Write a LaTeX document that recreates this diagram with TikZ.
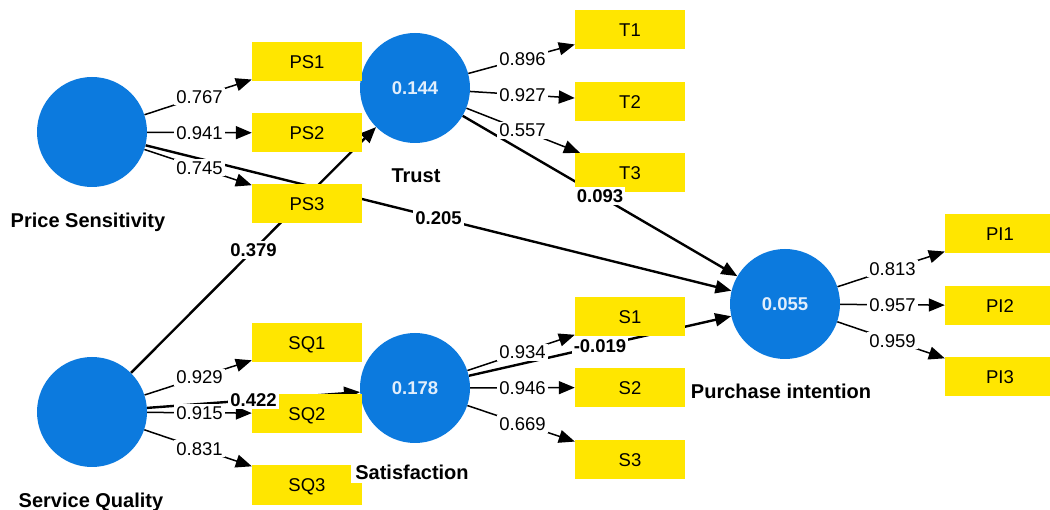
\documentclass[tikz,border=0pt]{standalone}
\usepackage{fontspec}
\setmainfont{Liberation Sans}
\usetikzlibrary{arrows.meta,calc,backgrounds}

\definecolor{lvblue}{RGB}{12,122,222}
\definecolor{mvyellow}{RGB}{255,230,0}
\definecolor{rsqtext}{RGB}{225,238,252}

\begin{document}
\begin{tikzpicture}[x=1pt,y=-1pt,
  latent/.style={circle, fill=lvblue, minimum size=110pt, inner sep=0pt,
    text=rsqtext, font=\bfseries\fontsize{18.5}{20}\selectfont,
    text height=13.3pt, text depth=0pt},
  indicator/.style={rectangle, fill=mvyellow, minimum width=110pt,
    minimum height=39pt, inner sep=0pt, font=\fontsize{18.5}{20}\selectfont,
    text height=13.3pt, text depth=0pt},
  loading/.style={draw, line width=1.5pt, -{Triangle[length=16pt,width=13pt]}},
  pathcoef/.style={draw, line width=2.4pt, -{Triangle[length=16pt,width=13pt]}},
  wlabel/.style={fill=white, inner sep=2pt, font=\fontsize{18.5}{20}\selectfont,
    text height=13.3pt, text depth=0pt},
  blabel/.style={wlabel, font=\bfseries\fontsize{18.5}{20}\selectfont},
  lvname/.style={fill=white, inner sep=4pt, font=\bfseries\fontsize{20}{22}\selectfont,
    text height=14.3pt, text depth=0pt}
]
\useasboundingbox (0,0) rectangle (1050,510);
\clip (0,0) rectangle (1050,510);

% latent variables (R-squared inside)
\node[latent] (ps)  at (92,132)  {};
\node[latent] (tr)  at (415,88)  {0.144};
\node[latent] (sq)  at (92,412)  {};
\node[latent] (sat) at (415,388) {0.178};
\node[latent] (pi)  at (785,304) {0.055};

% indicators
\node[indicator] (ps1) at (307,61.5)  {PS1};
\node[indicator] (ps2) at (307,133)   {PS2};
\node[indicator] (ps3) at (307,203.5) {PS3};
\node[indicator] (t1)  at (630,29.5)  {T1};
\node[indicator] (t2)  at (630,101.5) {T2};
\node[indicator] (t3)  at (630,172.5) {T3};
\node[indicator] (sq1) at (307,342.5) {SQ1};
\node[indicator] (sq2) at (307,413.5) {SQ2};
\node[indicator] (sq3) at (307,485)   {SQ3};
\node[indicator] (s1)  at (630,316.5) {S1};
\node[indicator] (s2)  at (630,387.5) {S2};
\node[indicator] (s3)  at (630,460)   {S3};
\node[indicator] (pi1) at (1000,233.5) {PI1};
\node[indicator] (pi2) at (1000,305.5) {PI2};
\node[indicator] (pi3) at (1000,377)   {PI3};

% connectors, kept beneath the shapes
\begin{scope}[on background layer]
  \draw[pathcoef] (ps)  -- (pi);
  \draw[pathcoef] (sq)  -- (tr);
  \draw[pathcoef] (tr)  -- (pi);
  \draw[pathcoef] (sq)  -- (sat);
  \draw[pathcoef] (sat) -- (pi);
  \foreach \a/\b in {ps/ps1,ps/ps2,ps/ps3,tr/t1,tr/t2,tr/t3,
                     sq/sq1,sq/sq2,sq/sq3,sat/s1,sat/s2,sat/s3,
                     pi/pi1,pi/pi2,pi/pi3}
    \draw[loading] (\a) -- (\b);
\end{scope}

% outer loadings
\foreach \a/\b/\v in {ps/ps1/0.767,ps/ps2/0.941,ps/ps3/0.745,
                      tr/t1/0.896,tr/t2/0.927,tr/t3/0.557,
                      sq/sq1/0.929,sq/sq2/0.915,sq/sq3/0.831,
                      sat/s1/0.934,sat/s2/0.946,sat/s3/0.669,
                      pi/pi1/0.813,pi/pi2/0.957,pi/pi3/0.959}
  \node[wlabel] (l-\b) at ($(\a)!.5!(\b)$) {\v};

% path coefficients
\node[blabel] (c-pspi)  at ($(ps)!.5!(pi)$)  {0.205};
\node[blabel] (c-sqtr)  at ($(sq)!.5!(tr)$)  {0.379};
\node[blabel] (c-trpi)  at ($(tr)!.5!(pi)$)  {0.093};
\node[blabel] (c-sqsat) at ($(sq)!.5!(sat)$) {0.422};
\node[blabel] (c-satpi) at ($(sat)!.5!(pi)$) {-0.019};

% construct names
\node[lvname] (n-ps)  at (88,220)  {Price Sensitivity};
\node[lvname] (n-tr)  at (416,175) {Trust};
\node[lvname] (n-sq)  at (91,500)  {Service Quality};
\node[lvname] (n-sat) at (412,472) {Satisfaction};
\node[lvname] (n-pi)  at (781,391) {Purchase intention};
\end{tikzpicture}
\end{document}
